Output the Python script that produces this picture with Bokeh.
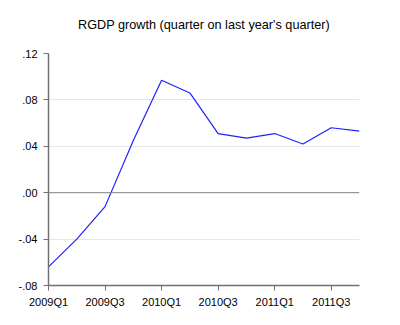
from bokeh.plotting import figure
from bokeh.models import Range1d, FixedTicker, CustomJSTickFormatter, Span, Title
from bokeh.embed import file_html
from bokeh.resources import INLINE

quarters = ["2009Q1", "2009Q2", "2009Q3", "2009Q4",
            "2010Q1", "2010Q2", "2010Q3", "2010Q4",
            "2011Q1", "2011Q2", "2011Q3", "2011Q4"]
growth = [-0.064, -0.040, -0.012, 0.045,
          0.097, 0.086, 0.051, 0.047,
          0.051, 0.042, 0.056, 0.053]
y_ticks = [-0.08, -0.04, 0.0, 0.04, 0.08, 0.12]
x_tick_labels = ["2009Q1", "2009Q3", "2010Q1", "2010Q3", "2011Q1", "2011Q3"]
title_text = "RGDP growth (quarter on last year's quarter)"

x_idx = list(range(len(quarters)))
x_tick_pos = [quarters.index(q) for q in x_tick_labels]

p = figure(width=400, height=325, output_backend="svg", toolbar_location=None,
           x_range=Range1d(0, len(quarters) - 1), y_range=Range1d(-0.08, 0.12),
           min_border_left=48, min_border_right=41, min_border_top=53, min_border_bottom=40)

# real title
p.title.text = title_text
p.title.align = "center"
p.title.text_font = "Liberation Sans"
p.title.text_font_size = "12.7px"
p.title.text_font_style = "normal"
p.title.text_color = "#000000"
p.title.standoff = 0

# spacer between the frame and the title
p.add_layout(Title(text=" ", text_font_size="1px", standoff=19), "above")

p.outline_line_color = None
p.background_fill_color = "white"
p.border_fill_color = "white"

p.line(x_idx, growth, line_color="#2020ff", line_width=1.2)

p.xaxis.ticker = FixedTicker(ticks=x_tick_pos)
p.xaxis.formatter = CustomJSTickFormatter(args=dict(labels=quarters),
                                          code="return labels[Math.round(tick)];")
p.yaxis.ticker = FixedTicker(ticks=y_ticks)
p.yaxis.formatter = CustomJSTickFormatter(code="""
var s = tick.toFixed(2);
return s.replace('0.', '.');
""")

for ax in [p.xaxis[0], p.yaxis[0]]:
    ax.axis_line_color = "#707070"
    ax.axis_line_width = 1.5
    ax.major_tick_line_color = "#707070"
    ax.major_tick_line_width = 1
    ax.major_tick_out = 5
    ax.major_tick_in = 0
    ax.minor_tick_line_color = None
    ax.major_label_text_font = "Liberation Sans"
    ax.major_label_text_font_size = "11px"
    ax.major_label_text_color = "#000000"

p.xaxis[0].major_label_standoff = 5
p.yaxis[0].major_label_standoff = 6

p.xgrid.grid_line_color = None
p.ygrid.ticker = FixedTicker(ticks=[-0.04, 0.04, 0.08])
p.ygrid.grid_line_color = "#e6e6e6"
p.ygrid.grid_line_width = 1

p.add_layout(Span(location=0.0, dimension="width", line_color="#808080", line_width=1))

open("out.html", "w").write(file_html(p, INLINE))
